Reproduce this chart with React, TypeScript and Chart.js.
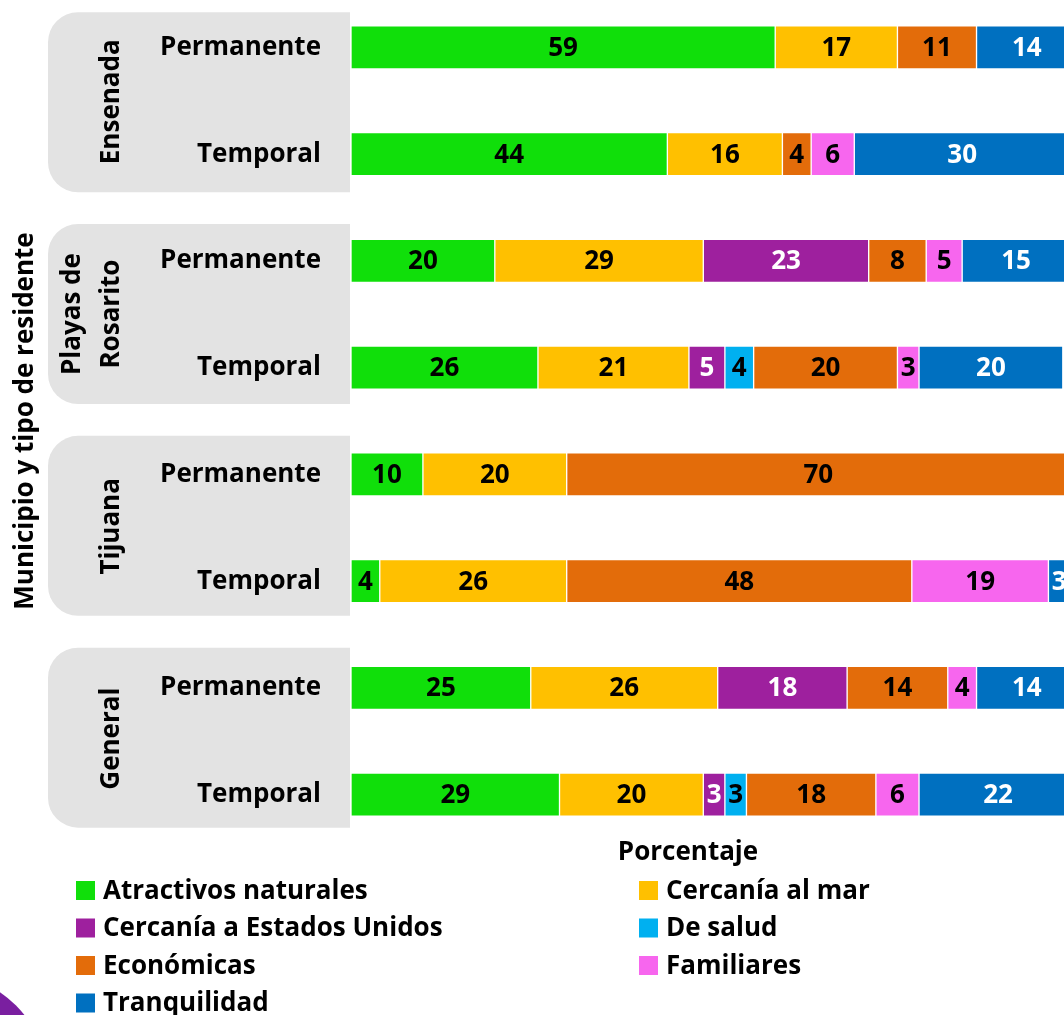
import { useEffect, useRef } from "react";
import { Chart, registerables } from "chart.js";

Chart.register(...registerables);

const FONT = '"Open Sans", sans-serif';
const FS = 26;

const rowLabels = ["Permanente", "Temporal", "Permanente", "Temporal", "Permanente", "Temporal", "Permanente", "Temporal"];
const groupLabels = [["Ensenada"], ["Playas de", "Rosarito"], ["Tijuana"], ["General"]];
const seriesNames = [
  "Atractivos naturales",
  "Cercanía al mar",
  "Cercanía a Estados Unidos",
  "De salud",
  "Económicas",
  "Familiares",
  "Tranquilidad",
];
const seriesColors = ["#10DF0A", "#FFC000", "#9E209E", "#00B0F0", "#E36C0A", "#F766EE", "#0070C0"];
const labelColors = ["#000000", "#000000", "#FFFFFF", "#000000", "#000000", "#000000", "#FFFFFF"];

const atractivosNaturales = [59, 44, 20, 26, 10, 4, 25, 29];
const cercaniaMar = [17, 16, 29, 21, 20, 26, 26, 20];
const cercaniaEU = [null, null, 23, 5, null, null, 18, 3];
const deSalud = [null, null, null, 4, null, null, null, 3];
const economicas = [11, 4, 8, 20, 70, 48, 14, 18];
const familiares = [null, 6, 5, 3, null, 19, 4, 6];
const tranquilidad = [14, 30, 15, 20, null, 3, 14, 22];
const seriesValues = [atractivosNaturales, cercaniaMar, cercaniaEU, deSalud, economicas, familiares, tranquilidad];

const yTitle = "Municipio y tipo de residente";
const xTitle = "Porcentaje";

const OFFSET = 7; // canvas y = page y + OFFSET

const decorPlugin = {
  id: "decor",
  beforeDraw(chart: any) {
    const { ctx, chartArea, scales } = chart;
    const y = scales.y;
    ctx.save();
    // purple corner decoration
    ctx.fillStyle = "#7A1FA0";
    ctx.beginPath();
    ctx.arc(-62, 1083 + OFFSET, 110, 0, Math.PI * 2);
    ctx.fill();
    // group panels
    ctx.fillStyle = "#E3E3E3";
    groupLabels.forEach((_lines, g) => {
      const gc = (y.getPixelForValue(2 * g) + y.getPixelForValue(2 * g + 1)) / 2 + 1.5 - 1.7 * g;
      const top = gc - 90;
      const bottom = gc + 90;
      const left = 48;
      const right = chartArea.left - 1;
      const r = 30;
      ctx.beginPath();
      ctx.moveTo(right, top);
      ctx.lineTo(left + r, top);
      ctx.arcTo(left, top, left, top + r, r);
      ctx.lineTo(left, bottom - r);
      ctx.arcTo(left, bottom, left + r, bottom, r);
      ctx.lineTo(right, bottom);
      ctx.closePath();
      ctx.fill();
    });
    // group labels (rotated)
    ctx.fillStyle = "#000";
    ctx.font = `bold ${FS}px ${FONT}`;
    ctx.textAlign = "center";
    ctx.textBaseline = "alphabetic";
    groupLabels.forEach((lines, g) => {
      const cy = (y.getPixelForValue(2 * g) + y.getPixelForValue(2 * g + 1)) / 2 + 1 - 1.2 * g;
      const baselines = lines.length === 1 ? [119] : [80, 119];
      lines.forEach((t, i) => {
        ctx.save();
        ctx.translate(baselines[i], cy);
        ctx.rotate(-Math.PI / 2);
        ctx.fillText(t, 0, 0);
        ctx.restore();
      });
    });
    ctx.restore();
  },
  afterDatasetsDraw(chart: any) {
    const { ctx } = chart;
    ctx.save();
    ctx.font = `bold ${FS}px ${FONT}`;
    ctx.textAlign = "center";
    ctx.textBaseline = "middle";
    chart.data.datasets.forEach((ds: any, i: number) => {
      const meta = chart.getDatasetMeta(i);
      meta.data.forEach((el: any, j: number) => {
        const v = ds.data[j];
        if (v === null || v === undefined || v <= 0) return;
        const { x, base, y } = el.getProps(["x", "base", "y"], true);
        ctx.fillStyle = labelColors[i];
        ctx.fillText(String(v), (x + base) / 2, y + 1);
      });
    });
    ctx.restore();
  },
  afterDraw(chart: any) {
    const { ctx } = chart;
    ctx.save();
    ctx.font = `bold ${FS}px ${FONT}`;
    ctx.fillStyle = "#000";
    ctx.textAlign = "center";
    ctx.textBaseline = "middle";
    ctx.fillText(xTitle, 688, 853 + OFFSET);
    // legend in two columns
    const colX = [76, 639];
    chart.data.datasets.forEach((ds: any, i: number) => {
      const col = i % 2;
      const row = Math.floor(i / 2);
      const cy = 890.5 + row * 37.5 + OFFSET;
      ctx.fillStyle = ds.backgroundColor;
      ctx.fillRect(colX[col], cy - 9.5, 19, 19);
      ctx.fillStyle = "#000";
      ctx.textAlign = "left";
      ctx.fillText(ds.label, colX[col] + 27, cy + 1);
    });
    ctx.restore();
  },
};

export default function App() {
  const ref = useRef<HTMLCanvasElement | null>(null);

  useEffect(() => {
    if (!ref.current) return;
    const chart = new Chart(ref.current, {
      type: "bar",
      data: {
        labels: rowLabels,
        datasets: seriesNames.map((name, i) => ({
          label: name,
          data: seriesValues[i] as any,
          backgroundColor: seriesColors[i],
          borderColor: "rgba(255,255,255,0.55)",
          borderWidth: 1,
          borderSkipped: false,
          barThickness: 43,
        })),
      },
      options: {
        indexAxis: "y",
        responsive: false,
        animation: false,
        devicePixelRatio: 1,
        layout: { padding: { left: 0, right: 0, top: 1, bottom: 167 } },
        plugins: { legend: { display: false }, tooltip: { enabled: false } },
        scales: {
          x: { stacked: true, display: false, min: 0, max: 100 },
          y: {
            stacked: true,
            grid: { display: false, drawTicks: false },
            border: { display: false },
            ticks: { color: "#000", font: { family: FONT, size: FS, weight: "bold" }, padding: 30 },
            title: {
              display: true,
              text: yTitle,
              color: "#000",
              font: { family: FONT, size: FS, weight: "bold" },
              padding: { top: 10, bottom: 0 },
            },
            afterFit: (s: any) => {
              s.width = 351;
              s.paddingTop = 0;
              s.paddingBottom = 0;
            },
          },
        },
      } as any,
      plugins: [decorPlugin],
    });
    return () => chart.destroy();
  }, []);

  return (
    <div
      style={{
        position: "fixed",
        left: 0,
        top: 0,
        width: 1064,
        height: 1015,
        overflow: "hidden",
        background: "#fff",
      }}
    >
      <canvas
        ref={ref}
        width={1070}
        height={1022}
        style={{ position: "absolute", left: 0, top: -OFFSET, width: 1070, height: 1022 }}
      />
    </div>
  );
}
